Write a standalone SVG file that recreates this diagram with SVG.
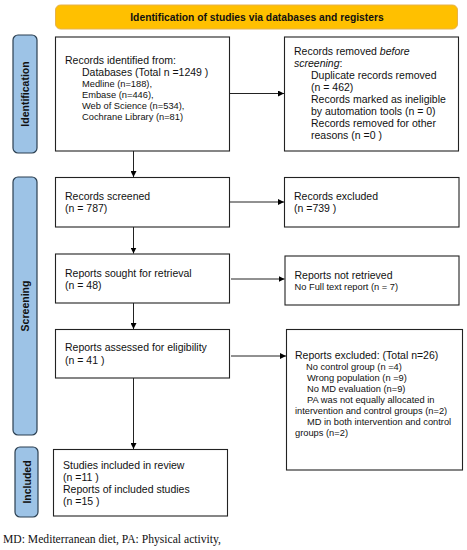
<svg xmlns="http://www.w3.org/2000/svg" width="467" height="550" viewBox="0 0 467 550">
<defs>
<marker id="ah" viewBox="0 0 10 10" refX="10" refY="5" markerWidth="6" markerHeight="6" markerUnits="userSpaceOnUse" orient="auto"><path d="M0,0 L10,5 L0,10 z" fill="#000"/></marker>
<style>
.box{fill:#fff;stroke:#222;stroke-width:1.1}
.side{fill:#9dc3e6;stroke:#2b3f50;stroke-width:1.2}
.t{font-family:"Liberation Sans",Arial,sans-serif;font-size:10.5px;fill:#111}
.s{font-family:"Liberation Sans",Arial,sans-serif;font-size:9.3px;fill:#111}
.b{font-family:"Liberation Sans",Arial,sans-serif;font-size:10.3px;font-weight:bold;fill:#111}
.v{font-family:"Liberation Sans",Arial,sans-serif;font-size:10.5px;font-weight:bold;fill:#111}
.c{stroke:#222;stroke-width:1;fill:none;marker-end:url(#ah)}
</style>
</defs>
<rect width="467" height="550" fill="#fff"/>
<g id="header">
<rect x="55.5" y="5" width="402" height="24" rx="5" fill="#ffc000" stroke="#e6b24c" stroke-width="1"/>
<text class="b" x="257" y="20.5" text-anchor="middle">Identification of studies via databases and registers</text>
</g>
<g id="label-identification">
<rect class="side" x="13" y="35" width="24" height="118" rx="5"/>
<text class="v" transform="translate(29,94) rotate(-90)" text-anchor="middle">Identification</text>
</g>
<g id="label-screening">
<rect class="side" x="13" y="177" width="24" height="258" rx="5"/>
<text class="v" transform="translate(29,306) rotate(-90)" text-anchor="middle">Screening</text>
</g>
<g id="label-included">
<rect class="side" x="15" y="447" width="23" height="70" rx="5"/>
<text class="v" transform="translate(30.5,482) rotate(-90)" text-anchor="middle">Included</text>
</g>
<g id="records-identified">
<rect class="box" x="55.5" y="37" width="174" height="114"/>
<text class="t" x="65" y="64">Records identified from:</text>
<text class="t" x="82" y="76">Databases (Total n =1249 )</text>
<text class="s" x="82" y="87">Medline (n=188),</text>
<text class="s" x="82" y="98">Embase (n=446),</text>
<text class="s" x="82" y="109">Web of Science (n=534),</text>
<text class="s" x="82" y="120">Cochrane Library (n=81)</text>
</g>
<g id="records-removed">
<rect class="box" x="284.5" y="37" width="174" height="114"/>
<text class="t" x="294" y="55">Records removed <tspan font-style="italic">before</tspan></text>
<text class="t" x="294" y="67"><tspan font-style="italic">screening</tspan>:</text>
<text class="t" x="311" y="79">Duplicate records removed</text>
<text class="t" x="311" y="91">(n = 462)</text>
<text class="t" x="311" y="103">Records marked as ineligible</text>
<text class="t" x="311" y="115">by automation tools (n = 0)</text>
<text class="t" x="311" y="127">Records removed for other</text>
<text class="t" x="311" y="139">reasons (n =0 )</text>
</g>
<g id="records-screened">
<rect class="box" x="55.5" y="177.5" width="174" height="49.5"/>
<text class="t" x="65" y="200">Records screened</text>
<text class="t" x="65" y="212">(n = 787)</text>
</g>
<g id="records-excluded">
<rect class="box" x="284.5" y="177.5" width="174.5" height="49.5"/>
<text class="t" x="294" y="200">Records excluded</text>
<text class="t" x="294" y="212">(n =739 )</text>
</g>
<g id="reports-sought">
<rect class="box" x="55.5" y="254" width="174" height="49"/>
<text class="t" x="65" y="277">Reports sought for retrieval</text>
<text class="t" x="65" y="289">(n = 48)</text>
</g>
<g id="reports-not-retrieved">
<rect class="box" x="285" y="256" width="174" height="49"/>
<text class="t" x="294.5" y="279">Reports not retrieved</text>
<text class="s" x="294.5" y="290">No Full text report (n = 7)</text>
</g>
<g id="reports-assessed">
<rect class="box" x="55.5" y="329.5" width="174" height="48.5"/>
<text class="t" x="65" y="351">Reports assessed for eligibility</text>
<text class="t" x="65" y="364">(n = 41 )</text>
</g>
<g id="reports-excluded">
<rect class="box" x="286.5" y="329.5" width="176" height="140.5"/>
<text class="t" x="295" y="359">Reports excluded: (Total n=26)</text>
<text class="s" x="306" y="370">No control group (n =4)</text>
<text class="s" x="307" y="381">Wrong population (n =9)</text>
<text class="s" x="307" y="392">No MD evaluation (n=9)</text>
<text class="s" x="307" y="403">PA was not equally allocated in</text>
<text class="s" x="295" y="414">intervention and control groups (n=2)</text>
<text class="s" x="307" y="425">MD in both intervention and control</text>
<text class="s" x="295" y="436">groups (n=2)</text>
</g>
<g id="studies-included">
<rect class="box" x="53.5" y="449.5" width="174" height="66.5"/>
<text class="t" x="63" y="469">Studies included in review</text>
<text class="t" x="63" y="481">(n =11 )</text>
<text class="t" x="63" y="493">Reports of included studies</text>
<text class="t" x="63" y="505">(n =15 )</text>
</g>
<g id="connectors">
<line class="c" x1="229.5" y1="93.5" x2="284" y2="93.5"/>
<line class="c" x1="133.5" y1="151" x2="133.5" y2="177"/>
<line class="c" x1="229.5" y1="202" x2="284" y2="202"/>
<line class="c" x1="133.5" y1="227" x2="133.5" y2="253.5"/>
<line class="c" x1="231" y1="279" x2="284.5" y2="279"/>
<line class="c" x1="133.5" y1="303" x2="133.5" y2="329"/>
<line class="c" x1="231" y1="356" x2="286" y2="356"/>
<line class="c" x1="133.5" y1="378" x2="133.5" y2="449"/>
</g>
<text x="3" y="543" font-family="'Liberation Serif','Times New Roman',serif" font-size="11.5" fill="#111" textLength="218" lengthAdjust="spacingAndGlyphs">MD: Mediterranean diet, PA: Physical activity,</text>
</svg>
